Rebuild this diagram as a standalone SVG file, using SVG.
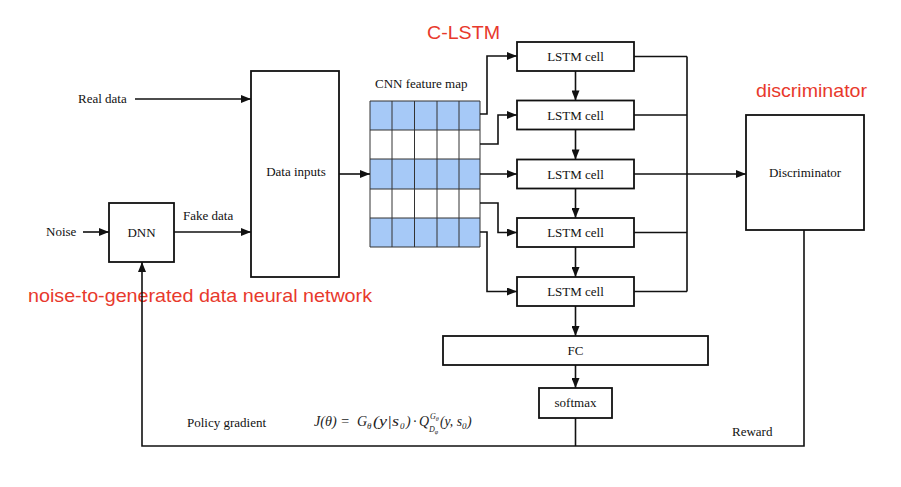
<svg xmlns="http://www.w3.org/2000/svg" width="901" height="487" viewBox="0 0 901 487">
<style>
.box{fill:#fff;stroke:#111;stroke-width:1.8}
.t{font-family:"Liberation Serif","DejaVu Serif",serif;font-size:13px;fill:#111}
.red{font-family:"Liberation Sans",Arial,sans-serif;fill:#e8392c}
.ln{fill:none;stroke:#111;stroke-width:1.6}
.ar{fill:none;stroke:#111;stroke-width:1.6;marker-end:url(#ah)}
.blue{fill:#a6c9f7;stroke:none}
.grid{stroke:#333;stroke-width:1;fill:none}
.math{font-family:"Liberation Serif","DejaVu Serif",serif;font-style:italic;font-size:14px;fill:#222}
.sm{font-size:9px}
.xs{font-size:8px}
</style>
<defs>
<marker id="ah" viewBox="0 0 10 8" refX="10" refY="4" markerWidth="11" markerHeight="8" markerUnits="userSpaceOnUse" orient="auto">
<path d="M0,0 L10,4 L0,8 z" fill="#111"/>
</marker>
</defs>
<rect width="901" height="487" fill="#fff"/>

<g id="labels">
<text class="red" x="427" y="39" font-size="18.5" textLength="73" lengthAdjust="spacingAndGlyphs">C-LSTM</text>
<text class="red" x="756" y="97" font-size="18.5" textLength="111" lengthAdjust="spacingAndGlyphs">discriminator</text>
<text class="red" x="28" y="302" font-size="18.5" textLength="344" lengthAdjust="spacingAndGlyphs">noise-to-generated data neural network</text>
<text class="t" x="78" y="103">Real data</text>
<text class="t" x="46" y="236">Noise</text>
<text class="t" x="183" y="220">Fake data</text>
<text class="t" x="375" y="88" font-size="12">CNN feature map</text>
<text class="t" x="187" y="427" font-size="14.5">Policy gradient</text>
<text class="t" x="732" y="436" font-size="14">Reward</text>
</g>

<g id="formula">
<text class="math" x="314" y="426" textLength="36" lengthAdjust="spacingAndGlyphs">J(θ) =</text>
<text class="math" x="357" y="426">G</text>
<text class="math sm" x="367" y="429">θ</text>
<text class="math" x="373" y="426" textLength="26" lengthAdjust="spacingAndGlyphs">(y|s</text>
<text class="math sm" x="400" y="429">0</text>
<text class="math" x="406" y="426">)</text>
<text class="math" x="413" y="426">·</text>
<text class="math" x="419" y="426">Q</text>
<text class="math xs" x="430" y="419">G<tspan font-size="6" dy="1.5">θ</tspan></text>
<text class="math xs" x="429" y="432">D<tspan font-size="6" dy="2">φ</tspan></text>
<text class="math" x="440" y="426" textLength="22" lengthAdjust="spacingAndGlyphs">(y, s</text>
<text class="math sm" x="462" y="429">0</text>
<text class="math" x="467" y="426">)</text>
</g>

<g id="dnn"><rect class="box" x="109" y="203" width="65" height="59"/><text class="t" x="141.5" y="237" text-anchor="middle">DNN</text></g>
<g id="data-inputs"><rect class="box" x="251" y="71" width="88" height="206"/><text class="t" x="296" y="176" text-anchor="middle">Data inputs</text></g>

<g id="cnn-feature-map">
<rect class="blue" x="370" y="101" width="110" height="29"/>
<rect class="blue" x="370" y="159" width="110" height="30"/>
<rect class="blue" x="370" y="218" width="110" height="29"/>
<path class="grid" d="M370,101H480V247H370Z M392,101V247 M414.5,101V247 M437,101V247 M459,101V247 M370,130H480 M370,159H480 M370,189H480 M370,218H480"/>
</g>

<g id="lstm1"><rect class="box" x="517" y="42" width="117" height="29"/><text class="t" x="575.5" y="61" text-anchor="middle">LSTM cell</text></g>
<g id="lstm2"><rect class="box" x="517" y="100.5" width="117" height="29"/><text class="t" x="575.5" y="119.5" text-anchor="middle">LSTM cell</text></g>
<g id="lstm3"><rect class="box" x="517" y="159.5" width="117" height="29"/><text class="t" x="575.5" y="178.5" text-anchor="middle">LSTM cell</text></g>
<g id="lstm4"><rect class="box" x="517" y="218" width="117" height="29"/><text class="t" x="575.5" y="237" text-anchor="middle">LSTM cell</text></g>
<g id="lstm5"><rect class="box" x="517" y="277" width="117" height="29"/><text class="t" x="575.5" y="296" text-anchor="middle">LSTM cell</text></g>

<g id="discriminator"><rect class="box" x="746" y="115" width="118" height="115"/><text class="t" x="805" y="177" text-anchor="middle">Discriminator</text></g>
<g id="fc"><rect class="box" x="443" y="336" width="265" height="29"/><text class="t" x="575.5" y="355" text-anchor="middle">FC</text></g>
<g id="softmax"><rect class="box" x="539" y="388" width="73" height="30"/><text class="t" x="575.5" y="407" text-anchor="middle">softmax</text></g>

<g id="connectors">
<path class="ar" d="M135,99H251"/>
<path class="ar" d="M83,232H109"/>
<path class="ar" d="M174,232H251"/>
<path class="ar" d="M339,174H370"/>
<path class="ar" d="M480,114H487V56H517"/>
<path class="ar" d="M480,144H498V115H517"/>
<path class="ar" d="M480,174H517"/>
<path class="ar" d="M480,203H498V232.5H517"/>
<path class="ar" d="M480,232H487V291.5H517"/>
<path class="ar" d="M575.5,71V100.5"/>
<path class="ar" d="M575.5,129.5V159.5"/>
<path class="ar" d="M575.5,188.5V218"/>
<path class="ar" d="M575.5,247V277"/>
<path class="ar" d="M575.5,306V336"/>
<path class="ar" d="M575.5,365V388"/>
<path class="ln" d="M634,56.5H687 M634,115H687 M634,232.5H687 M634,291.5H687 M687,56.5V291.5"/>
<path class="ar" d="M634,174H746"/>
<path class="ln" d="M575.5,418V446"/>
<path class="ar" d="M804,230V446H142V262"/>
</g>
</svg>
